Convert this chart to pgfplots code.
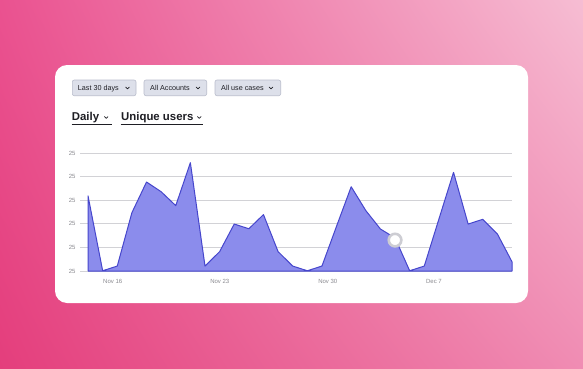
\documentclass[border=0pt]{standalone}
\usepackage{pgfplots}
\pgfplotsset{compat=1.18}
\usetikzlibrary{shadings}
\usepackage{fontspec}
\setmainfont{Liberation Sans}
\definecolor{bgUL}{HTML}{EA5290}
\definecolor{bgUR}{HTML}{F6BDD3}
\definecolor{bgLL}{HTML}{E43E7C}
\definecolor{bgLR}{HTML}{F08CB3}
\definecolor{btnfill}{HTML}{DDE0EA}
\definecolor{btnborder}{HTML}{B9BDCC}
\definecolor{areafill}{HTML}{8B8CEC}
\definecolor{arealine}{HTML}{4646CC}
\definecolor{gridc}{HTML}{D2D2D6}
\definecolor{ringc}{HTML}{CDCDD3}
\definecolor{tickc}{HTML}{8A8A90}
\definecolor{txt}{HTML}{1E1E24}
\pgfplotstableread{
x y
0 3.18
1 0.01
2 0.21
3 2.47
4 3.77
5 3.36
6 2.77
7 4.59
8 0.21
9 0.82
10 1.99
11 1.79
12 2.39
13 0.82
14 0.21
15 0.01
16 0.21
17 1.90
18 3.57
19 2.56
20 1.78
21 1.40
22 0.01
23 0.21
24 2.20
25 4.18
26 1.99
27 2.19
28 1.57
29 0.39
}\usersdata
\newcommand\chev[2]{\draw[txt, line width=0.7pt, line cap=round, line join=round] (#1-1.8,#2-1) -- (#1,#2+0.8) -- (#1+1.8,#2-1);}
\newcommand\btn[5]{%
  \draw[fill=btnfill, draw=btnborder, line width=0.6pt, rounded corners=2pt] (#1,80) rectangle (#2,95.7);
  \node[anchor=base west, inner sep=0pt, font=\fontsize{7.2}{8}\selectfont, text=txt] at (#3,90.6) {#4};
  \chev{#5}{88}}
\begin{document}
\begin{tikzpicture}[x=1pt,y=-1pt]
\useasboundingbox (0,0) rectangle (583,369);
\shade[upper left=bgUL, upper right=bgUR, lower left=bgLL, lower right=bgLR] (0,0) rectangle (583,369);
\fill[white, rounded corners=12pt] (55,65) rectangle (528,303);
\btn{72.3}{136}{77.7}{Last 30 days}{127.5}
\btn{144}{206.7}{150}{All Accounts}{198}
\btn{215}{280.7}{221}{All use cases}{271}
\node[anchor=base west, inner sep=0pt, font=\fontsize{11.4}{13}\selectfont\bfseries, text=txt] at (71.7,120.7) {Daily};
\chev{106.2}{117.6}
\draw[txt, line width=0.7pt] (71.7,124.3) -- (111.7,124.3);
\node[anchor=base west, inner sep=0pt, font=\fontsize{11.4}{13}\selectfont\bfseries, text=txt] at (121,120.7) {Unique users};
\chev{199.2}{117.6}
\draw[txt, line width=0.7pt] (120.5,124.3) -- (203.3,124.3);
\begin{axis}[
  at={(80pt,-271pt)}, anchor=south west,
  scale only axis, width=432pt, height=118pt,
  xmin=-0.55, xmax=29, ymin=0, ymax=5,
  axis line style={draw=none},
  major tick length=0pt,
  ytick={0,1,2,3,4,5},
  yticklabels={25,25,25,25,25,25},
  ymajorgrids, grid style={gridc, line width=0.9pt},
  xtick={1.69,9.01,16.4,23.66},
  xticklabels={Nov 16,Nov 23,Nov 30,Dec 7},
  x tick label style={font=\fontsize{6}{7}\selectfont, text=tickc, yshift=-5pt},
  y tick label style={font=\fontsize{6}{7}\selectfont, text=tickc, xshift=-1pt},
  /pgf/number format/assume math mode=true,
  clip=false,
]
\addplot[fill=areafill, draw=arealine, line width=1pt, line join=round] table[x=x,y=y]{\usersdata} \closedcycle;
\addplot[only marks, mark=*, mark size=6.3pt, mark options={draw=ringc, fill=white, line width=2.6pt}] coordinates {(21,1.31)};
\end{axis}
\end{tikzpicture}
\end{document}
